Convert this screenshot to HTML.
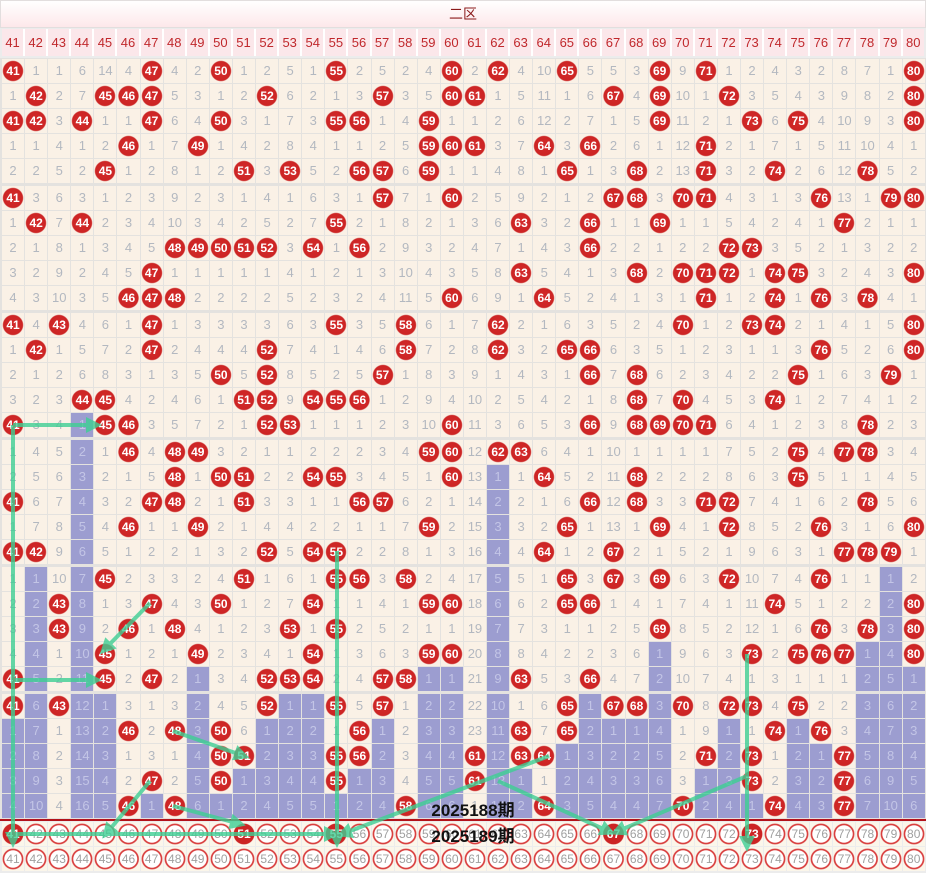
<!DOCTYPE html>
<html><head><meta charset="utf-8"><style>
*{margin:0;padding:0;box-sizing:border-box}
body{width:926px;height:873px;overflow:hidden;background:#ececec;font-family:"Liberation Sans","Noto Sans CJK SC",sans-serif;position:relative}
.top{position:absolute;left:0;top:0;width:926px;height:28px;background:linear-gradient(#fff,#fde8ea);border:1px solid #e2dede;text-align:center;color:#8b1a1a;font-size:14px;line-height:27px}
.hd{position:absolute;left:2px;top:29px;display:grid;grid-template-columns:repeat(40,21.1px);gap:2px;height:27px;background:#fff}
.hd span{background:#fbe7ea;color:#c0282c;font-size:13px;line-height:27px;text-align:center}
#g{position:absolute;left:0;top:58px;width:926px;height:761px;background:#e4e2df}
.r{display:grid;grid-template-columns:repeat(40,22.1px);gap:1px;height:24px;margin-top:1px;margin-left:2px}
.r.s{margin-top:3px}
.r i,.r b,.r u{font-style:normal;text-decoration:none;text-align:center;line-height:24px;font-size:13px;background:#faf1e6;color:#b3b8c0}
.r b{color:#fff;font-size:12px;font-weight:bold;background:radial-gradient(circle,#d42b2b 0,#cc2424 9.6px,#faf1e6 10.6px)}
.r u{background:#9c9dd0;color:#c3c5e6}
.red{position:absolute;left:0;top:819px;width:926px;height:2px;background:#b3121a}
.bt{position:absolute;left:2px;display:grid;grid-template-columns:repeat(40,22.1px);gap:1px;height:24px}
.bt span{background:radial-gradient(circle,#fff 0,#fff 8.4px,#d94040 9px,#d94040 10px,#fbf6ea 10.8px);color:#a0a0a0;font-size:12px;line-height:24px;text-align:center}
.bt span.f{background:radial-gradient(circle,#cc2424 0,#cc2424 10px,#fbf6ea 10.8px);color:#fff;font-weight:bold}
.lab{position:absolute;left:418px;font-size:17px;font-weight:bold;color:#111;width:110px;text-align:center}
svg{position:absolute;left:0;top:0}
</style></head><body>
<div class="top">二区</div>
<div class="hd"><span>41</span><span>42</span><span>43</span><span>44</span><span>45</span><span>46</span><span>47</span><span>48</span><span>49</span><span>50</span><span>51</span><span>52</span><span>53</span><span>54</span><span>55</span><span>56</span><span>57</span><span>58</span><span>59</span><span>60</span><span>61</span><span>62</span><span>63</span><span>64</span><span>65</span><span>66</span><span>67</span><span>68</span><span>69</span><span>70</span><span>71</span><span>72</span><span>73</span><span>74</span><span>75</span><span>76</span><span>77</span><span>78</span><span>79</span><span>80</span></div>
<div id="g">
<div class="r"><b>41</b><i>1</i><i>1</i><i>6</i><i>14</i><i>4</i><b>47</b><i>4</i><i>2</i><b>50</b><i>1</i><i>2</i><i>5</i><i>1</i><b>55</b><i>2</i><i>5</i><i>2</i><i>4</i><b>60</b><i>2</i><b>62</b><i>4</i><i>10</i><b>65</b><i>5</i><i>5</i><i>3</i><b>69</b><i>9</i><b>71</b><i>1</i><i>2</i><i>4</i><i>3</i><i>2</i><i>8</i><i>7</i><i>1</i><b>80</b></div>
<div class="r"><i>1</i><b>42</b><i>2</i><i>7</i><b>45</b><b>46</b><b>47</b><i>5</i><i>3</i><i>1</i><i>2</i><b>52</b><i>6</i><i>2</i><i>1</i><i>3</i><b>57</b><i>3</i><i>5</i><b>60</b><b>61</b><i>1</i><i>5</i><i>11</i><i>1</i><i>6</i><b>67</b><i>4</i><b>69</b><i>10</i><i>1</i><b>72</b><i>3</i><i>5</i><i>4</i><i>3</i><i>9</i><i>8</i><i>2</i><b>80</b></div>
<div class="r"><b>41</b><b>42</b><i>3</i><b>44</b><i>1</i><i>1</i><b>47</b><i>6</i><i>4</i><b>50</b><i>3</i><i>1</i><i>7</i><i>3</i><b>55</b><b>56</b><i>1</i><i>4</i><b>59</b><i>1</i><i>1</i><i>2</i><i>6</i><i>12</i><i>2</i><i>7</i><i>1</i><i>5</i><b>69</b><i>11</i><i>2</i><i>1</i><b>73</b><i>6</i><b>75</b><i>4</i><i>10</i><i>9</i><i>3</i><b>80</b></div>
<div class="r"><i>1</i><i>1</i><i>4</i><i>1</i><i>2</i><b>46</b><i>1</i><i>7</i><b>49</b><i>1</i><i>4</i><i>2</i><i>8</i><i>4</i><i>1</i><i>1</i><i>2</i><i>5</i><b>59</b><b>60</b><b>61</b><i>3</i><i>7</i><b>64</b><i>3</i><b>66</b><i>2</i><i>6</i><i>1</i><i>12</i><b>71</b><i>2</i><i>1</i><i>7</i><i>1</i><i>5</i><i>11</i><i>10</i><i>4</i><i>1</i></div>
<div class="r"><i>2</i><i>2</i><i>5</i><i>2</i><b>45</b><i>1</i><i>2</i><i>8</i><i>1</i><i>2</i><b>51</b><i>3</i><b>53</b><i>5</i><i>2</i><b>56</b><b>57</b><i>6</i><b>59</b><i>1</i><i>1</i><i>4</i><i>8</i><i>1</i><b>65</b><i>1</i><i>3</i><b>68</b><i>2</i><i>13</i><b>71</b><i>3</i><i>2</i><b>74</b><i>2</i><i>6</i><i>12</i><b>78</b><i>5</i><i>2</i></div>
<div class="r s"><b>41</b><i>3</i><i>6</i><i>3</i><i>1</i><i>2</i><i>3</i><i>9</i><i>2</i><i>3</i><i>1</i><i>4</i><i>1</i><i>6</i><i>3</i><i>1</i><b>57</b><i>7</i><i>1</i><b>60</b><i>2</i><i>5</i><i>9</i><i>2</i><i>1</i><i>2</i><b>67</b><b>68</b><i>3</i><b>70</b><b>71</b><i>4</i><i>3</i><i>1</i><i>3</i><b>76</b><i>13</i><i>1</i><b>79</b><b>80</b></div>
<div class="r"><i>1</i><b>42</b><i>7</i><b>44</b><i>2</i><i>3</i><i>4</i><i>10</i><i>3</i><i>4</i><i>2</i><i>5</i><i>2</i><i>7</i><b>55</b><i>2</i><i>1</i><i>8</i><i>2</i><i>1</i><i>3</i><i>6</i><b>63</b><i>3</i><i>2</i><b>66</b><i>1</i><i>1</i><b>69</b><i>1</i><i>1</i><i>5</i><i>4</i><i>2</i><i>4</i><i>1</i><b>77</b><i>2</i><i>1</i><i>1</i></div>
<div class="r"><i>2</i><i>1</i><i>8</i><i>1</i><i>3</i><i>4</i><i>5</i><b>48</b><b>49</b><b>50</b><b>51</b><b>52</b><i>3</i><b>54</b><i>1</i><b>56</b><i>2</i><i>9</i><i>3</i><i>2</i><i>4</i><i>7</i><i>1</i><i>4</i><i>3</i><b>66</b><i>2</i><i>2</i><i>1</i><i>2</i><i>2</i><b>72</b><b>73</b><i>3</i><i>5</i><i>2</i><i>1</i><i>3</i><i>2</i><i>2</i></div>
<div class="r"><i>3</i><i>2</i><i>9</i><i>2</i><i>4</i><i>5</i><b>47</b><i>1</i><i>1</i><i>1</i><i>1</i><i>1</i><i>4</i><i>1</i><i>2</i><i>1</i><i>3</i><i>10</i><i>4</i><i>3</i><i>5</i><i>8</i><b>63</b><i>5</i><i>4</i><i>1</i><i>3</i><b>68</b><i>2</i><b>70</b><b>71</b><b>72</b><i>1</i><b>74</b><b>75</b><i>3</i><i>2</i><i>4</i><i>3</i><b>80</b></div>
<div class="r"><i>4</i><i>3</i><i>10</i><i>3</i><i>5</i><b>46</b><b>47</b><b>48</b><i>2</i><i>2</i><i>2</i><i>2</i><i>5</i><i>2</i><i>3</i><i>2</i><i>4</i><i>11</i><i>5</i><b>60</b><i>6</i><i>9</i><i>1</i><b>64</b><i>5</i><i>2</i><i>4</i><i>1</i><i>3</i><i>1</i><b>71</b><i>1</i><i>2</i><b>74</b><i>1</i><b>76</b><i>3</i><b>78</b><i>4</i><i>1</i></div>
<div class="r s"><b>41</b><i>4</i><b>43</b><i>4</i><i>6</i><i>1</i><b>47</b><i>1</i><i>3</i><i>3</i><i>3</i><i>3</i><i>6</i><i>3</i><b>55</b><i>3</i><i>5</i><b>58</b><i>6</i><i>1</i><i>7</i><b>62</b><i>2</i><i>1</i><i>6</i><i>3</i><i>5</i><i>2</i><i>4</i><b>70</b><i>1</i><i>2</i><b>73</b><b>74</b><i>2</i><i>1</i><i>4</i><i>1</i><i>5</i><b>80</b></div>
<div class="r"><i>1</i><b>42</b><i>1</i><i>5</i><i>7</i><i>2</i><b>47</b><i>2</i><i>4</i><i>4</i><i>4</i><b>52</b><i>7</i><i>4</i><i>1</i><i>4</i><i>6</i><b>58</b><i>7</i><i>2</i><i>8</i><b>62</b><i>3</i><i>2</i><b>65</b><b>66</b><i>6</i><i>3</i><i>5</i><i>1</i><i>2</i><i>3</i><i>1</i><i>1</i><i>3</i><b>76</b><i>5</i><i>2</i><i>6</i><b>80</b></div>
<div class="r"><i>2</i><i>1</i><i>2</i><i>6</i><i>8</i><i>3</i><i>1</i><i>3</i><i>5</i><b>50</b><i>5</i><b>52</b><i>8</i><i>5</i><i>2</i><i>5</i><b>57</b><i>1</i><i>8</i><i>3</i><i>9</i><i>1</i><i>4</i><i>3</i><i>1</i><b>66</b><i>7</i><b>68</b><i>6</i><i>2</i><i>3</i><i>4</i><i>2</i><i>2</i><b>75</b><i>1</i><i>6</i><i>3</i><b>79</b><i>1</i></div>
<div class="r"><i>3</i><i>2</i><i>3</i><b>44</b><b>45</b><i>4</i><i>2</i><i>4</i><i>6</i><i>1</i><b>51</b><b>52</b><i>9</i><b>54</b><b>55</b><b>56</b><i>1</i><i>2</i><i>9</i><i>4</i><i>10</i><i>2</i><i>5</i><i>4</i><i>2</i><i>1</i><i>8</i><b>68</b><i>7</i><b>70</b><i>4</i><i>5</i><i>3</i><b>74</b><i>1</i><i>2</i><i>7</i><i>4</i><i>1</i><i>2</i></div>
<div class="r"><b>41</b><i>3</i><i>4</i><u>1</u><b>45</b><b>46</b><i>3</i><i>5</i><i>7</i><i>2</i><i>1</i><b>52</b><b>53</b><i>1</i><i>1</i><i>1</i><i>2</i><i>3</i><i>10</i><b>60</b><i>11</i><i>3</i><i>6</i><i>5</i><i>3</i><b>66</b><i>9</i><b>68</b><b>69</b><b>70</b><b>71</b><i>6</i><i>4</i><i>1</i><i>2</i><i>3</i><i>8</i><b>78</b><i>2</i><i>3</i></div>
<div class="r s"><i>1</i><i>4</i><i>5</i><u>2</u><i>1</i><b>46</b><i>4</i><b>48</b><b>49</b><i>3</i><i>2</i><i>1</i><i>1</i><i>2</i><i>2</i><i>2</i><i>3</i><i>4</i><b>59</b><b>60</b><i>12</i><b>62</b><b>63</b><i>6</i><i>4</i><i>1</i><i>10</i><i>1</i><i>1</i><i>1</i><i>1</i><i>7</i><i>5</i><i>2</i><b>75</b><i>4</i><b>77</b><b>78</b><i>3</i><i>4</i></div>
<div class="r"><i>2</i><i>5</i><i>6</i><u>3</u><i>2</i><i>1</i><i>5</i><b>48</b><i>1</i><b>50</b><b>51</b><i>2</i><i>2</i><b>54</b><b>55</b><i>3</i><i>4</i><i>5</i><i>1</i><b>60</b><i>13</i><u>1</u><i>1</i><b>64</b><i>5</i><i>2</i><i>11</i><b>68</b><i>2</i><i>2</i><i>2</i><i>8</i><i>6</i><i>3</i><b>75</b><i>5</i><i>1</i><i>1</i><i>4</i><i>5</i></div>
<div class="r"><b>41</b><i>6</i><i>7</i><u>4</u><i>3</i><i>2</i><b>47</b><b>48</b><i>2</i><i>1</i><b>51</b><i>3</i><i>3</i><i>1</i><i>1</i><b>56</b><b>57</b><i>6</i><i>2</i><i>1</i><i>14</i><u>2</u><i>2</i><i>1</i><i>6</i><b>66</b><i>12</i><b>68</b><i>3</i><i>3</i><b>71</b><b>72</b><i>7</i><i>4</i><i>1</i><i>6</i><i>2</i><b>78</b><i>5</i><i>6</i></div>
<div class="r"><i>1</i><i>7</i><i>8</i><u>5</u><i>4</i><b>46</b><i>1</i><i>1</i><b>49</b><i>2</i><i>1</i><i>4</i><i>4</i><i>2</i><i>2</i><i>1</i><i>1</i><i>7</i><b>59</b><i>2</i><i>15</i><u>3</u><i>3</i><i>2</i><b>65</b><i>1</i><i>13</i><i>1</i><b>69</b><i>4</i><i>1</i><b>72</b><i>8</i><i>5</i><i>2</i><b>76</b><i>3</i><i>1</i><i>6</i><b>80</b></div>
<div class="r"><b>41</b><b>42</b><i>9</i><u>6</u><i>5</i><i>1</i><i>2</i><i>2</i><i>1</i><i>3</i><i>2</i><b>52</b><i>5</i><b>54</b><b>55</b><i>2</i><i>2</i><i>8</i><i>1</i><i>3</i><i>16</i><u>4</u><i>4</i><b>64</b><i>1</i><i>2</i><b>67</b><i>2</i><i>1</i><i>5</i><i>2</i><i>1</i><i>9</i><i>6</i><i>3</i><i>1</i><b>77</b><b>78</b><b>79</b><i>1</i></div>
<div class="r s"><i>1</i><u>1</u><i>10</i><u>7</u><b>45</b><i>2</i><i>3</i><i>3</i><i>2</i><i>4</i><b>51</b><i>1</i><i>6</i><i>1</i><b>55</b><b>56</b><i>3</i><b>58</b><i>2</i><i>4</i><i>17</i><u>5</u><i>5</i><i>1</i><b>65</b><i>3</i><b>67</b><i>3</i><b>69</b><i>6</i><i>3</i><b>72</b><i>10</i><i>7</i><i>4</i><b>76</b><i>1</i><i>1</i><u>1</u><i>2</i></div>
<div class="r"><i>2</i><u>2</u><b>43</b><u>8</u><i>1</i><i>3</i><b>47</b><i>4</i><i>3</i><b>50</b><i>1</i><i>2</i><i>7</i><b>54</b><i>1</i><i>1</i><i>4</i><i>1</i><b>59</b><b>60</b><i>18</i><u>6</u><i>6</i><i>2</i><b>65</b><b>66</b><i>1</i><i>4</i><i>1</i><i>7</i><i>4</i><i>1</i><i>11</i><b>74</b><i>5</i><i>1</i><i>2</i><i>2</i><u>2</u><b>80</b></div>
<div class="r"><i>3</i><u>3</u><b>43</b><u>9</u><i>2</i><b>46</b><i>1</i><b>48</b><i>4</i><i>1</i><i>2</i><i>3</i><b>53</b><i>1</i><b>55</b><i>2</i><i>5</i><i>2</i><i>1</i><i>1</i><i>19</i><u>7</u><i>7</i><i>3</i><i>1</i><i>1</i><i>2</i><i>5</i><b>69</b><i>8</i><i>5</i><i>2</i><i>12</i><i>1</i><i>6</i><b>76</b><i>3</i><b>78</b><u>3</u><b>80</b></div>
<div class="r"><i>4</i><u>4</u><i>1</i><u>10</u><b>45</b><i>1</i><i>2</i><i>1</i><b>49</b><i>2</i><i>3</i><i>4</i><i>1</i><b>54</b><i>1</i><i>3</i><i>6</i><i>3</i><b>59</b><b>60</b><i>20</i><u>8</u><i>8</i><i>4</i><i>2</i><i>2</i><i>3</i><i>6</i><u>1</u><i>9</i><i>6</i><i>3</i><b>73</b><i>2</i><b>75</b><b>76</b><b>77</b><u>1</u><u>4</u><b>80</b></div>
<div class="r"><b>41</b><u>5</u><i>2</i><u>11</u><b>45</b><i>2</i><b>47</b><i>2</i><u>1</u><i>3</i><i>4</i><b>52</b><b>53</b><b>54</b><i>2</i><i>4</i><b>57</b><b>58</b><u>1</u><u>1</u><i>21</i><u>9</u><b>63</b><i>5</i><i>3</i><b>66</b><i>4</i><i>7</i><u>2</u><i>10</i><i>7</i><i>4</i><i>1</i><i>3</i><i>1</i><i>1</i><i>1</i><u>2</u><u>5</u><u>1</u></div>
<div class="r s"><b>41</b><u>6</u><b>43</b><u>12</u><u>1</u><i>3</i><i>1</i><i>3</i><u>2</u><i>4</i><i>5</i><b>52</b><u>1</u><u>1</u><b>55</b><i>5</i><b>57</b><i>1</i><u>2</u><u>2</u><i>22</i><u>10</u><i>1</i><i>6</i><b>65</b><u>1</u><b>67</b><b>68</b><u>3</u><b>70</b><i>8</i><b>72</b><b>73</b><i>4</i><b>75</b><i>2</i><i>2</i><u>3</u><u>6</u><u>2</u></div>
<div class="r"><u>1</u><u>7</u><i>1</i><u>13</u><u>2</u><b>46</b><i>2</i><b>48</b><u>3</u><b>50</b><i>6</i><u>1</u><u>2</u><u>2</u><i>1</i><b>56</b><u>1</u><i>2</i><u>3</u><u>3</u><i>23</i><u>11</u><b>63</b><i>7</i><b>65</b><u>2</u><u>1</u><u>1</u><u>4</u><i>1</i><i>9</i><u>1</u><i>1</i><b>74</b><u>1</u><b>76</b><i>3</i><u>4</u><u>7</u><u>3</u></div>
<div class="r"><u>2</u><u>8</u><i>2</i><u>14</u><u>3</u><i>1</i><i>3</i><i>1</i><u>4</u><b>50</b><b>51</b><u>2</u><u>3</u><u>3</u><b>55</b><b>56</b><u>2</u><i>3</i><u>4</u><u>4</u><b>61</b><u>12</u><b>63</b><b>64</b><u>1</u><u>3</u><u>2</u><u>2</u><u>5</u><i>2</i><b>71</b><u>2</u><b>73</b><i>1</i><u>2</u><u>1</u><b>77</b><u>5</u><u>8</u><u>4</u></div>
<div class="r"><u>3</u><u>9</u><i>3</i><u>15</u><u>4</u><i>2</i><b>47</b><i>2</i><u>5</u><b>50</b><u>1</u><u>3</u><u>4</u><u>4</u><b>55</b><u>1</u><u>3</u><i>4</i><u>5</u><u>5</u><b>61</b><u>13</u><u>1</u><i>1</i><u>2</u><u>4</u><u>3</u><u>3</u><u>6</u><i>3</i><u>1</u><u>3</u><b>73</b><i>2</i><u>3</u><u>2</u><b>77</b><u>6</u><u>9</u><u>5</u></div>
<div class="r"><u>4</u><u>10</u><i>4</i><u>16</u><u>5</u><b>46</b><u>1</u><b>48</b><u>6</u><u>1</u><u>2</u><u>4</u><u>5</u><u>5</u><u>1</u><u>2</u><u>4</u><b>58</b><u>6</u><u>6</u><i>1</i><u>14</u><u>2</u><b>64</b><u>3</u><u>5</u><u>4</u><u>4</u><u>7</u><b>70</b><u>2</u><u>4</u><u>1</u><b>74</b><u>4</u><u>3</u><b>77</b><u>7</u><u>10</u><u>6</u></div>
</div>
<div class="red"></div>
<div class="bt" style="top:822px"><span class="f">41</span><span>42</span><span>43</span><span>44</span><span>45</span><span>46</span><span>47</span><span>48</span><span>49</span><span>50</span><span class="f">51</span><span>52</span><span>53</span><span>54</span><span class="f">55</span><span>56</span><span>57</span><span>58</span><span>59</span><span>60</span><span>61</span><span>62</span><span>63</span><span>64</span><span>65</span><span>66</span><span class="f">67</span><span>68</span><span>69</span><span>70</span><span>71</span><span>72</span><span class="f">73</span><span>74</span><span>75</span><span>76</span><span>77</span><span>78</span><span>79</span><span>80</span></div>
<div class="bt" style="top:847px"><span>41</span><span>42</span><span>43</span><span>44</span><span>45</span><span>46</span><span>47</span><span>48</span><span>49</span><span>50</span><span>51</span><span>52</span><span>53</span><span>54</span><span>55</span><span>56</span><span>57</span><span>58</span><span>59</span><span>60</span><span>61</span><span>62</span><span>63</span><span>64</span><span>65</span><span>66</span><span>67</span><span>68</span><span>69</span><span>70</span><span>71</span><span>72</span><span>73</span><span>74</span><span>75</span><span>76</span><span>77</span><span>78</span><span>79</span><span>80</span></div>
<svg width="926" height="873" viewBox="0 0 926 873">
<defs><marker id="a" markerWidth="4" markerHeight="4" refX="2.5" refY="2" orient="auto"><path d="M0,0 L4,2 L0,4 z" fill="#3ecf94"/></marker></defs>
<g stroke="#3ecf94" stroke-width="4" opacity="0.8" fill="none" marker-end="url(#a)">
<line x1="13" y1="425" x2="96" y2="425"/>
<line x1="13" y1="425" x2="13" y2="842"/>
<line x1="150" y1="603" x2="104" y2="650"/>
<line x1="13" y1="680" x2="96" y2="680"/>
<line x1="173" y1="731" x2="244" y2="756"/>
<line x1="150" y1="781" x2="106" y2="834"/>
<line x1="173" y1="806" x2="240" y2="824"/>
<line x1="13" y1="834" x2="334" y2="834"/>
<line x1="337" y1="551" x2="337" y2="842"/>
<line x1="549" y1="756" x2="342" y2="834"/>
<line x1="498" y1="781" x2="610" y2="832"/>
<line x1="747" y1="654" x2="747" y2="846"/>
<line x1="747" y1="776" x2="616" y2="832"/>
</g></svg>
<div class="lab" style="top:796px">2025188期</div>
<div class="lab" style="top:822px">2025189期</div>
</body></html>
